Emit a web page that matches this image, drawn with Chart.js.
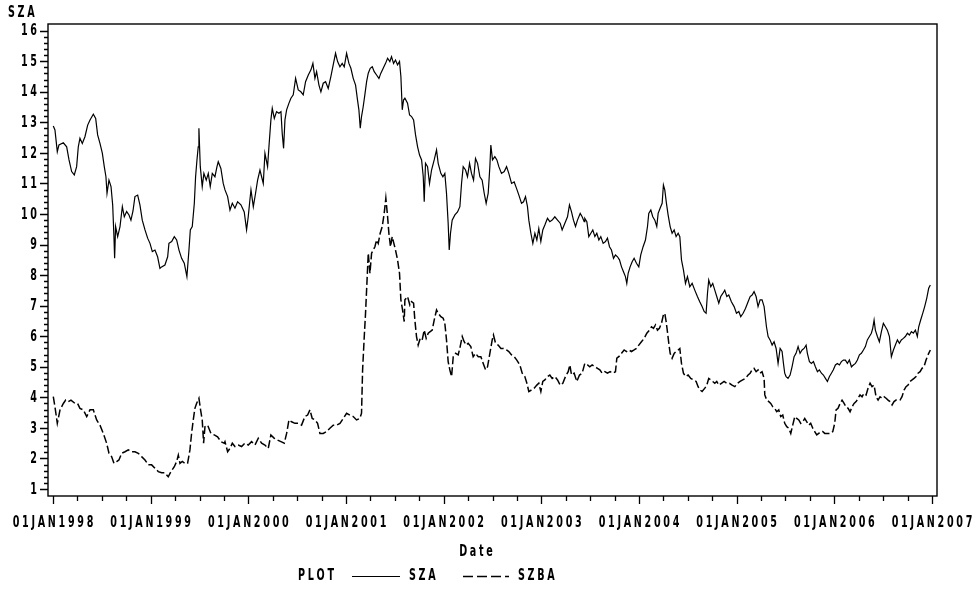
<!DOCTYPE html>
<html><head><meta charset="utf-8">
<script src="https://cdn.jsdelivr.net/npm/chart.js@4.4.1/dist/chart.umd.min.js"></script>
<style>html,body{margin:0;padding:0;background:#fff;}canvas{display:block;}</style>
</head><body>
<canvas id="c" width="977" height="590"></canvas>
<script>
const yearTicks = [1998,1999,2000,2001,2002,2003,2004,2005,2006,2007];
const yTickValues = [1,2,3,4,5,6,7,8,9,10,11,12,13,14,15,16];
const seriesNames = ['SZA','SZBA'];
const axisTitles = {x: 'Date', y: 'SZA', legend: 'PLOT'};

const szaDates = [
1998.003,1998.020,1998.044,1998.061,1998.106,1998.140,1998.164,1998.191,1998.218,1998.242,
1998.259,1998.276,1998.300,1998.327,1998.355,1998.379,1998.413,1998.437,1998.457,1998.481,
1998.505,1998.525,1998.542,1998.553,1998.573,1998.594,1998.611,1998.624,1998.631,1998.641,
1998.662,1998.686,1998.710,1998.730,1998.754,1998.778,1998.798,1998.819,1998.839,1998.867,
1998.890,1998.914,1998.942,1998.969,1998.993,1999.017,1999.044,1999.071,1999.095,1999.112,
1999.146,1999.174,1999.187,1999.215,1999.242,1999.266,1999.290,1999.317,1999.344,1999.371,
1999.392,1999.406,1999.426,1999.447,1999.460,1999.474,1999.487,1999.494,1999.508,1999.528,
1999.545,1999.569,1999.590,1999.610,1999.631,1999.658,1999.679,1999.692,1999.719,1999.743,
1999.761,1999.788,1999.812,1999.836,1999.863,1999.890,1999.924,1999.958,1999.982,1999.999,
2000.016,2000.027,2000.051,2000.074,2000.095,2000.119,2000.136,2000.153,2000.170,2000.197,
2000.211,2000.231,2000.245,2000.266,2000.289,2000.313,2000.334,2000.347,2000.361,2000.375,
2000.392,2000.416,2000.436,2000.460,2000.484,2000.511,2000.538,2000.562,2000.586,2000.614,
2000.641,2000.661,2000.682,2000.699,2000.723,2000.743,2000.767,2000.791,2000.818,2000.845,
2000.869,2000.893,2000.914,2000.938,2000.961,2000.982,2001.006,2001.030,2001.050,2001.074,
2001.098,2001.118,2001.132,2001.146,2001.159,2001.176,2001.193,2001.211,2001.228,2001.248,
2001.269,2001.289,2001.313,2001.337,2001.357,2001.381,2001.405,2001.426,2001.449,2001.466,
2001.487,2001.507,2001.528,2001.548,2001.562,2001.576,2001.589,
2001.603,2001.630,2001.651,2001.671,2001.692,2001.712,2001.733,2001.753,2001.774,2001.791,
2001.801,2001.814,2001.835,2001.855,2001.876,2001.903,2001.927,2001.944,2001.971,2001.992,
2002.012,2002.029,2002.046,2002.057,2002.070,2002.087,2002.115,2002.142,2002.166,2002.183,
2002.200,2002.224,2002.244,2002.265,2002.285,2002.306,2002.326,2002.347,2002.371,2002.394,
2002.415,2002.435,2002.456,2002.473,2002.483,2002.500,2002.524,2002.545,2002.565,2002.592,
2002.620,2002.644,2002.667,2002.695,2002.722,2002.746,2002.770,2002.797,2002.818,2002.838,
2002.858,2002.872,2002.893,2002.913,2002.934,2002.954,2002.974,2002.995,2003.015,2003.036,
2003.063,2003.087,2003.111,2003.138,2003.166,2003.193,2003.213,2003.241,2003.268,2003.288,
2003.309,2003.329,2003.350,2003.370,2003.398,2003.418,2003.439,
2003.445,2003.466,2003.486,2003.507,2003.527,2003.548,2003.568,2003.589,2003.609,2003.633,
2003.657,2003.677,2003.698,2003.718,2003.739,2003.759,2003.780,2003.800,2003.821,2003.841,
2003.861,2003.875,2003.889,2003.909,2003.930,2003.950,2003.974,2003.998,2004.018,2004.042,
2004.066,2004.087,2004.100,2004.121,2004.141,2004.162,2004.182,2004.196,2004.216,2004.237,
2004.250,2004.264,2004.281,2004.298,2004.319,2004.339,2004.360,2004.380,2004.401,2004.418,
2004.435,2004.455,2004.476,2004.496,2004.520,2004.544,2004.571,2004.598,2004.622,2004.646,
2004.667,2004.687,2004.701,2004.714,2004.735,2004.755,2004.776,2004.796,2004.817,2004.837,
2004.858,2004.878,2004.899,2004.919,2004.946,2004.974,2004.998,2005.022,2005.042,2005.066,
2005.090,2005.117,2005.138,2005.158,2005.178,2005.199,2005.219,2005.240,2005.260,2005.281,
2005.288,2005.305,2005.322,2005.342,2005.363,2005.383,2005.404,2005.424,2005.445,2005.465,
2005.479,2005.492,2005.506,2005.526,2005.547,2005.567,2005.588,2005.608,2005.629,2005.649,
2005.670,2005.690,2005.711,2005.724,2005.745,2005.765,2005.786,2005.806,2005.827,2005.847,
2005.868,2005.888,2005.909,2005.929,2005.950,2005.970,2005.990,2006.011,2006.031,2006.052,
2006.072,2006.093,2006.113,2006.134,2006.154,2006.175,2006.195,2006.216,2006.236,2006.257,
2006.277,2006.298,2006.318,2006.338,2006.359,2006.379,2006.393,2006.407,2006.420,2006.441,
2006.461,2006.482,2006.502,2006.523,2006.543,2006.564,2006.584,2006.605,2006.625,2006.646,
2006.666,2006.686,2006.707,2006.727,2006.748,2006.768,2006.789,2006.809,2006.830,2006.850,
2006.864,2006.884,2006.905,2006.925,2006.946,2006.966,2006.983
];
const szaValues = [
12.88,12.75,12.04,12.26,12.33,12.20,11.77,11.39,11.28,11.55,
12.20,12.48,12.31,12.53,12.91,13.08,13.27,13.13,12.59,12.31,
11.99,11.55,11.22,10.68,11.11,10.90,10.30,9.26,8.55,9.59,
9.26,9.59,10.24,9.91,10.08,9.97,9.80,10.10,10.57,10.62,
10.30,9.80,9.48,9.21,9.04,8.77,8.82,8.60,8.22,8.27,
8.33,8.60,9.04,9.10,9.26,9.15,8.82,8.55,8.39,7.95,
8.82,9.48,9.59,10.35,11.22,11.77,12.20,12.81,11.55,10.90,
11.33,11.11,11.33,10.90,11.33,11.22,11.55,11.71,11.49,11.00,
10.79,10.57,10.13,10.35,10.19,10.40,10.30,10.07,9.48,9.91,
10.46,10.79,10.24,10.68,11.11,11.44,11.22,11.00,11.99,11.55,
12.20,13.08,13.46,13.13,13.35,13.30,13.35,12.64,12.15,13.08,
13.41,13.63,13.79,13.90,14.44,14.06,14.00,13.90,14.33,14.55,
14.72,14.93,14.44,14.66,14.22,14.00,14.28,14.33,14.11,14.50,
14.88,15.26,14.99,14.82,14.93,14.82,15.26,14.93,14.77,14.44,
14.22,13.73,13.41,12.81,13.19,13.51,13.90,14.33,14.61,14.77,
14.82,14.66,14.55,14.44,14.61,14.77,14.93,15.10,14.99,15.15,
14.93,15.04,14.88,14.99,14.50,13.41,13.73,
13.79,13.63,13.24,13.19,13.08,12.59,12.20,11.93,11.77,11.22,
10.40,11.66,11.55,11.00,11.44,11.77,12.10,11.66,11.33,11.22,
11.33,10.68,9.70,8.82,9.37,9.80,9.97,10.07,10.24,11.00,
11.55,11.44,11.22,11.66,11.33,11.11,11.82,11.66,11.22,11.11,
10.68,10.35,10.68,11.55,12.26,11.77,11.88,11.77,11.55,11.33,
11.39,11.55,11.33,11.00,11.05,10.84,10.62,10.35,10.40,10.57,
10.24,9.80,9.37,9.04,9.37,9.15,9.53,9.10,9.48,9.64,
9.86,9.75,9.80,9.91,9.80,9.70,9.48,9.70,9.91,10.30,
10.07,9.80,9.59,9.80,10.02,9.91,9.75,
9.86,9.75,9.26,9.37,9.48,9.26,9.37,9.15,9.26,9.04,
9.10,9.21,8.93,8.82,8.55,8.66,8.60,8.50,8.27,8.11,
7.95,7.73,8.06,8.27,8.44,8.55,8.39,8.27,8.66,8.93,
9.15,9.59,10.02,10.13,9.91,9.80,9.59,10.02,10.19,10.35,
10.95,10.79,10.35,9.97,9.59,9.37,9.48,9.26,9.37,9.26,
8.50,8.17,7.73,7.95,7.62,7.73,7.51,7.30,7.13,6.97,
6.81,6.75,7.40,7.84,7.62,7.73,7.51,7.30,7.08,7.30,
7.40,7.51,7.30,7.35,7.13,6.97,6.75,6.81,6.64,6.75,
6.91,7.13,7.30,7.35,7.46,7.30,6.97,7.19,7.19,6.97,
6.97,6.31,5.99,5.88,5.71,5.82,5.60,5.11,5.60,5.50,
5.11,4.79,4.68,4.62,4.73,5.00,5.33,5.44,5.66,5.44,
5.55,5.60,5.71,5.44,5.17,5.11,5.17,5.00,4.84,4.90,
4.79,4.73,4.62,4.52,4.68,4.79,4.90,5.06,5.11,5.06,
5.17,5.22,5.22,5.11,5.22,5.00,5.06,5.11,5.22,5.39,
5.44,5.55,5.66,5.88,5.99,6.10,6.26,6.53,6.20,5.99,
5.82,6.15,6.42,6.31,6.20,5.99,5.33,5.55,5.71,5.88,
5.77,5.88,5.93,5.99,6.10,6.04,6.15,6.10,6.20,5.99,
6.31,6.53,6.75,6.97,7.24,7.57,7.68
];

const szbaDates = [
1998.003,1998.020,1998.044,1998.072,1998.106,1998.130,1998.157,1998.184,1998.225,1998.252,
1998.276,1998.310,1998.345,1998.379,1998.413,1998.447,1998.481,1998.515,1998.549,1998.573,
1998.600,1998.624,1998.652,1998.675,1998.703,1998.737,1998.771,1998.805,1998.839,1998.873,
1998.907,1998.942,1998.976,1999.010,1999.044,1999.078,1999.112,1999.146,1999.180,1999.208,
1999.242,1999.266,1999.283,1999.300,1999.324,1999.351,1999.378,1999.402,1999.419,1999.436,
1999.453,1999.470,1999.494,1999.511,1999.528,1999.542,1999.556,1999.583,1999.617,1999.651,
1999.685,1999.719,1999.754,
1999.761,1999.788,1999.812,1999.836,1999.863,1999.897,1999.931,1999.965,1999.999,2000.033,
2000.068,2000.102,2000.136,2000.170,2000.204,2000.231,2000.266,2000.300,2000.334,2000.368,
2000.392,2000.416,2000.443,2000.477,2000.511,2000.545,2000.579,2000.607,2000.631,2000.654,
2000.682,2000.709,2000.733,2000.767,2000.801,2000.835,2000.869,2000.904,2000.938,2000.972,
2001.006,2001.040,2001.074,2001.108,2001.142,2001.159,2001.170,2001.187,2001.200,2001.214,
2001.228,2001.245,2001.262,2001.279,2001.296,2001.313,2001.330,2001.350,2001.371,2001.391,
2001.408,2001.426,2001.439,2001.456,2001.473,2001.490,2001.507,2001.528,2001.548,2001.562,
2001.579,2001.596,
2001.603,2001.630,2001.654,2001.671,2001.692,2001.705,2001.722,2001.739,2001.760,2001.780,
2001.801,2001.821,2001.842,2001.862,2001.883,2001.903,2001.927,2001.944,2001.971,2001.995,
2002.012,2002.029,2002.046,2002.063,2002.081,2002.098,2002.122,2002.149,2002.169,2002.190,
2002.210,2002.231,2002.251,2002.278,2002.302,2002.326,2002.354,2002.381,2002.405,2002.429,
2002.449,2002.473,2002.497,2002.510,2002.531,2002.558,2002.586,2002.613,2002.644,2002.667,
2002.695,2002.722,2002.749,2002.780,2002.804,2002.831,2002.852,2002.872,2002.899,2002.927,
2002.954,2002.974,2002.995,2003.015,2003.036,2003.063,2003.087,2003.111,2003.138,2003.166,
2003.193,2003.220,2003.247,2003.275,2003.292,2003.309,2003.336,2003.363,2003.391,2003.418,
2003.445,2003.473,2003.496,2003.520,2003.548,2003.575,2003.599,2003.623,2003.650,2003.677,
2003.705,2003.732,2003.759,2003.773,2003.793,2003.821,2003.848,2003.872,2003.896,2003.923,
2003.950,2003.974,2003.998,2004.025,2004.053,2004.080,2004.107,2004.128,2004.148,2004.169,
2004.189,2004.209,2004.230,2004.250,2004.264,2004.278,2004.291,2004.305,2004.319,2004.339,
2004.360,2004.380,2004.401,2004.418,2004.435,2004.455,2004.476,2004.503,2004.530,2004.557,
2004.585,2004.605,2004.626,2004.646,2004.674,2004.694,2004.714,2004.735,2004.755,2004.776,
2004.796,2004.817,2004.844,2004.871,2004.899,2004.926,2004.953,2004.981,2005.008,2005.035,
2005.062,2005.090,2005.117,2005.138,2005.158,2005.178,2005.199,2005.219,2005.240,2005.260,
2005.281,
2005.288,2005.308,2005.329,2005.349,2005.370,2005.390,2005.410,2005.431,2005.451,2005.472,
2005.492,2005.513,2005.533,2005.554,2005.574,2005.595,2005.615,2005.636,2005.656,2005.677,
2005.697,2005.718,2005.738,2005.758,2005.779,2005.799,2005.820,2005.840,2005.861,2005.881,
2005.902,2005.922,2005.943,2005.963,2005.984,2006.004,2006.018,2006.038,2006.059,2006.079,
2006.100,2006.120,2006.141,2006.161,2006.182,2006.202,2006.223,2006.243,2006.263,2006.284,
2006.304,2006.325,2006.345,2006.366,2006.386,2006.407,2006.427,2006.448,2006.468,2006.489,
2006.509,2006.530,2006.550,2006.570,2006.591,2006.611,2006.632,2006.652,2006.673,2006.693,
2006.714,2006.734,2006.755,2006.775,2006.796,2006.816,2006.837,2006.857,2006.878,2006.898,
2006.918,2006.939,2006.959,2006.983
];
const szbaValues = [
4.02,3.69,3.15,3.59,3.80,3.91,3.86,3.91,3.80,3.80,
3.64,3.59,3.37,3.59,3.59,3.26,3.09,2.82,2.50,2.17,
2.06,1.84,1.90,1.95,2.17,2.22,2.28,2.22,2.22,2.17,
2.06,1.95,1.79,1.79,1.68,1.57,1.53,1.53,1.40,1.57,
1.73,1.90,2.11,1.84,1.90,1.84,1.84,2.28,2.82,3.26,
3.64,3.80,3.97,3.59,3.26,2.50,3.04,3.09,2.82,2.77,
2.71,2.55,2.50,
2.55,2.22,2.33,2.50,2.39,2.44,2.39,2.50,2.44,2.55,
2.44,2.66,2.50,2.44,2.33,2.77,2.66,2.60,2.55,2.50,
2.82,3.26,3.20,3.15,3.15,3.09,3.37,3.42,3.59,3.31,
3.26,3.15,2.82,2.82,2.88,2.99,3.09,3.09,3.15,3.31,
3.48,3.42,3.37,3.26,3.31,3.48,4.90,5.99,6.75,7.73,
8.72,8.06,8.72,8.82,8.93,9.15,9.04,9.37,9.59,10.02,
10.52,9.91,9.37,8.93,9.26,9.04,8.82,8.50,8.06,7.19,
6.86,6.48,
7.19,7.30,7.02,7.13,7.08,6.53,5.99,5.71,5.93,5.88,
6.20,5.93,6.10,6.15,6.20,6.53,6.86,6.75,6.64,6.59,
6.42,5.88,5.17,4.90,4.68,5.33,5.44,5.39,5.66,5.99,
5.82,5.71,5.77,5.66,5.33,5.44,5.33,5.33,5.11,4.90,
5.00,5.44,5.88,6.04,5.77,5.71,5.60,5.60,5.55,5.50,
5.39,5.33,5.22,5.06,4.79,4.68,4.46,4.19,4.24,4.30,
4.40,4.46,4.19,4.52,4.57,4.68,4.73,4.62,4.68,4.57,
4.40,4.46,4.68,4.84,5.06,4.73,4.79,4.52,4.73,4.79,
5.11,5.06,5.00,5.06,5.00,4.95,4.90,4.79,4.84,4.79,
4.84,4.79,4.84,5.28,5.33,5.44,5.55,5.50,5.55,5.50,
5.55,5.60,5.71,5.82,5.93,6.10,6.20,6.31,6.26,6.37,
6.20,6.26,6.42,6.70,6.75,6.48,6.15,5.77,5.44,5.28,
5.44,5.50,5.55,5.60,5.11,4.79,4.68,4.73,4.62,4.57,
4.52,4.35,4.24,4.19,4.30,4.40,4.62,4.57,4.52,4.46,
4.52,4.40,4.46,4.52,4.46,4.46,4.40,4.35,4.46,4.52,
4.57,4.62,4.73,4.79,4.90,4.95,4.84,4.90,4.79,4.84,
4.62,
4.08,3.91,3.86,3.80,3.69,3.64,3.53,3.59,3.37,3.42,
3.15,3.04,2.99,2.82,3.09,3.37,3.31,3.26,3.15,3.20,
3.31,3.20,3.09,3.15,2.99,2.88,2.77,2.82,2.88,2.88,
2.82,2.82,2.82,2.82,2.88,3.15,3.59,3.64,3.80,3.91,
3.80,3.69,3.64,3.53,3.69,3.80,3.86,3.97,4.08,4.02,
4.13,4.08,4.30,4.46,4.35,4.40,4.02,3.91,4.02,3.97,
4.02,3.97,3.91,3.86,3.75,3.86,3.91,3.91,3.91,4.02,
4.24,4.35,4.40,4.52,4.57,4.62,4.68,4.79,4.84,4.95,
5.00,5.22,5.39,5.55
];

// Condensed SAS-like text: tall narrow glyphs with wide tracking
const TXT = {family: "'DejaVu Sans'", size: 16, squeeze: 0.6, track: 4.5};
function sasText(ctx, text, x, y, align) {
  ctx.save();
  ctx.font = `bold ${TXT.size}px ${TXT.family}`;
  ctx.letterSpacing = '0px';
  const chars = Array.from(text);
  let raw = 0;
  chars.forEach(c => { raw += ctx.measureText(c).width; });
  raw += TXT.track * (chars.length - 1);
  const w = raw * TXT.squeeze;
  const left = align === 'center' ? x - w / 2 : (align === 'right' ? x - w : x);
  ctx.translate(left, y);
  ctx.scale(TXT.squeeze, 1);
  ctx.fillStyle = '#000';
  ctx.textAlign = 'left';
  ctx.textBaseline = 'middle';
  let cx = 0;
  chars.forEach(c => { ctx.fillText(c, cx, 0); cx += ctx.measureText(c).width + TXT.track; });
  ctx.restore();
}

const saxPlugin = {
  id: 'saxStyle',
  beforeDraw(chart) {
    const ctx = chart.ctx;
    ctx.save();
    ctx.fillStyle = '#fff';
    ctx.fillRect(0, 0, chart.width, chart.height);
    ctx.restore();
  },
  afterDraw(chart) {
    const {ctx, chartArea: a, scales: {x, y}} = chart;
    ctx.save();
    ctx.strokeStyle = '#000';
    ctx.lineWidth = 1.4;
    ctx.strokeRect(a.left, a.top, a.right - a.left, a.bottom - a.top);
    ctx.lineWidth = 1.3;
    ctx.beginPath();
    x.ticks.forEach(t => {
      const px = Math.round(x.getPixelForValue(t.value)) + 0.5;
      const major = Math.abs(t.value - Math.round(t.value)) < 1e-6;
      ctx.moveTo(px, a.bottom);
      ctx.lineTo(px, a.bottom + (major ? 8 : 5));
    });
    y.ticks.forEach(t => {
      const py = Math.round(y.getPixelForValue(t.value)) + 0.5;
      const major = Math.abs(t.value - Math.round(t.value)) < 1e-6;
      ctx.moveTo(a.left, py);
      ctx.lineTo(a.left - (major ? 8 : 4), py);
    });
    ctx.stroke();
    ctx.restore();

    yearTicks.forEach(yr => sasText(ctx, '01JAN' + yr, x.getPixelForValue(yr), 522.5, 'center'));
    yTickValues.forEach(v => sasText(ctx, String(v), 37, y.getPixelForValue(v) + 0.5, 'right'));
    sasText(ctx, axisTitles.y, 8, 13, 'left');
    sasText(ctx, axisTitles.x, 476, 552, 'center');

    const ly = 576;
    sasText(ctx, axisTitles.legend, 298, ly, 'left');
    ctx.save();
    ctx.strokeStyle = '#000';
    ctx.lineWidth = 1.2;
    ctx.beginPath(); ctx.moveTo(352, ly + 0.5); ctx.lineTo(400, ly + 0.5); ctx.stroke();
    ctx.lineWidth = 1.5;
    ctx.setLineDash([10, 4]);
    ctx.beginPath(); ctx.moveTo(463, ly + 0.5); ctx.lineTo(509, ly + 0.5); ctx.stroke();
    ctx.restore();
    sasText(ctx, seriesNames[0], 409, ly, 'left');
    sasText(ctx, seriesNames[1], 518, ly, 'left');
  }
};

const toPoints = (dates, vals) => dates.map((d, i) => ({x: d, y: vals[i]}));

new Chart(document.getElementById('c').getContext('2d'), {
  type: 'line',
  data: {
    datasets: [
      {label: seriesNames[0], data: toPoints(szaDates, szaValues), borderColor: '#000', borderWidth: 1.2,
       pointRadius: 0, fill: false, tension: 0},
      {label: seriesNames[1], data: toPoints(szbaDates, szbaValues), borderColor: '#000', borderWidth: 1.5,
       borderDash: [8, 3], pointRadius: 0, fill: false, tension: 0}
    ]
  },
  options: {
    responsive: false,
    animation: false,
    events: [],
    layout: {padding: {top: 24, right: 40, left: 0, bottom: 0}},
    plugins: {legend: {display: false}, tooltip: {enabled: false}},
    scales: {
      x: {
        type: 'linear', min: 1997.9488, max: 2007.0512,
        grid: {display: false, drawTicks: false}, border: {display: false},
        afterBuildTicks(s) {
          const t = [];
          const first = yearTicks[0], last = yearTicks[yearTicks.length - 1];
          for (let k = 0; k <= (last - first) * 4; k++) t.push({value: first + k * 0.25});
          s.ticks = t;
        },
        afterFit(s) { s.height = 94; },
        ticks: {display: false, autoSkip: false}
      },
      y: {
        type: 'linear', min: 0.771, max: 16.219,
        grid: {display: false, drawTicks: false}, border: {display: false},
        afterBuildTicks(s) {
          const t = [];
          const first = yTickValues[0], last = yTickValues[yTickValues.length - 1];
          for (let k = 0; k <= (last - first) * 5; k++) t.push({value: Math.round((first + k * 0.2) * 10) / 10});
          s.ticks = t;
        },
        afterFit(s) { s.width = 48; },
        ticks: {display: false, autoSkip: false}
      }
    }
  },
  plugins: [saxPlugin]
});
</script>
</body></html>
